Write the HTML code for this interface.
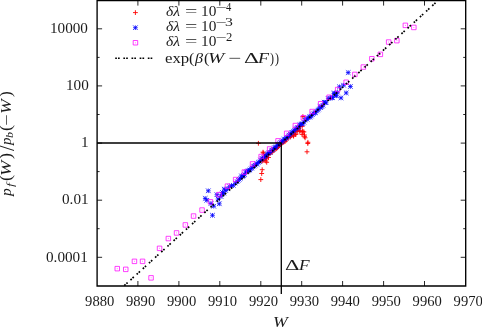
<!DOCTYPE html>
<html><head><meta charset="utf-8"><title>plot</title>
<style>
html,body{margin:0;padding:0;background:#fff;overflow:hidden;}
body{width:482px;height:327px;position:relative;overflow:hidden;font-family:"Liberation Serif",serif;color:#1a1a1a;}
.k{position:absolute;line-height:20px;white-space:nowrap;transform-origin:0 50%;display:block;}
.g{position:absolute;left:0;top:0;width:482px;height:327px;filter:grayscale(1);}
.yl{position:absolute;left:-4.3px;top:195.6px;width:0;height:0;transform:rotate(-90deg);transform-origin:0 0;}
</style></head><body>
<svg width="482" height="327" viewBox="0 0 482 327" style="position:absolute;left:0;top:0">
<path d="M300.5 116.6h4.8M302.9 114.2v4.8M300.5 131.8h4.8M302.9 129.4v4.8M297.3 131.3h4.8M299.7 128.9v4.8M293.6 134.2h4.8M296.0 131.8v4.8M291.2 136.2h4.8M293.6 133.8v4.8M302.2 136.7h4.8M304.6 134.3v4.8M305.4 143.5h4.8M307.8 141.1v4.8M304.6 151.8h4.8M307.0 149.4v4.8M256.0 143.3h4.8M258.4 140.9v4.8M260.6 152.2h4.8M263.0 149.8v4.8M264.3 162.3h4.8M266.7 159.9v4.8M263.8 158.9h4.8M266.2 156.5v4.8M259.8 169.7h4.8M262.2 167.3v4.8M259.3 173.5h4.8M261.7 171.1v4.8M258.4 179.6h4.8M260.8 177.2v4.8M260.9 153.0h4.8M263.3 150.6v4.8M263.4 161.0h4.8M265.8 158.6v4.8M295.3 131.3h4.8M297.7 128.9v4.8M297.8 130.7h4.8M300.2 128.3v4.8M300.2 131.3h4.8M302.6 128.9v4.8M301.5 131.9h4.8M303.9 129.5v4.8M299.6 134.4h4.8M302.0 132.0v4.8M302.1 135.0h4.8M304.5 132.6v4.8M292.9 134.4h4.8M295.3 132.0v4.8M291.1 135.6h4.8M293.5 133.2v4.8M302.7 137.8h4.8M305.1 135.4v4.8M305.5 142.3h4.8M307.9 139.9v4.8M266.1 157.5h4.8M268.5 155.1v4.8M262.1 156.0h4.8M264.5 153.6v4.8M267.6 153.0h4.8M270.0 150.6v4.8M259.6 161.2h4.8M262.0 158.8v4.8M260.5 160.6h4.8M262.9 158.2v4.8M261.7 160.0h4.8M264.1 157.6v4.8M262.9 158.4h4.8M265.3 156.0v4.8M264.0 157.4h4.8M266.4 155.0v4.8M265.0 154.6h4.8M267.4 152.2v4.8M266.3 154.4h4.8M268.7 152.0v4.8M267.5 153.3h4.8M269.9 150.9v4.8M268.3 152.6h4.8M270.7 150.2v4.8M269.7 152.4h4.8M272.1 150.0v4.8M271.1 149.3h4.8M273.5 146.9v4.8M272.2 149.6h4.8M274.6 147.2v4.8M273.4 149.0h4.8M275.8 146.6v4.8M274.3 148.5h4.8M276.7 146.1v4.8M275.2 147.4h4.8M277.6 145.0v4.8M276.2 146.3h4.8M278.6 143.9v4.8M277.1 145.4h4.8M279.5 143.0v4.8M278.0 144.5h4.8M280.4 142.1v4.8M279.4 143.5h4.8M281.8 141.1v4.8M280.6 142.6h4.8M283.0 140.2v4.8M281.7 141.8h4.8M284.1 139.4v4.8M282.7 141.4h4.8M285.1 139.0v4.8M284.2 140.0h4.8M286.6 137.6v4.8M285.3 137.6h4.8M287.7 135.2v4.8M286.2 137.2h4.8M288.6 134.8v4.8M287.3 136.1h4.8M289.7 133.7v4.8M288.2 136.9h4.8M290.6 134.5v4.8M289.0 135.6h4.8M291.4 133.2v4.8M289.9 133.5h4.8M292.3 131.1v4.8M291.1 133.7h4.8M293.5 131.3v4.8M292.6 131.6h4.8M295.0 129.2v4.8M294.0 129.9h4.8M296.4 127.5v4.8M295.0 128.6h4.8M297.4 126.2v4.8M295.9 128.5h4.8M298.3 126.1v4.8M297.3 126.1h4.8M299.7 123.7v4.8M298.3 126.4h4.8M300.7 124.0v4.8M299.8 126.3h4.8M302.2 123.9v4.8M133.0 12.6h4.8M135.4 10.2v4.8" stroke="#ff0000" stroke-width="0.9" fill="none"/>
<path d="M219.8 194.0h4.4M222.0 191.8v4.4M219.8 191.8l4.4 4.4M219.8 196.2l4.4 -4.4M221.7 193.3h4.4M223.9 191.1v4.4M221.7 191.1l4.4 4.4M221.7 195.5l4.4 -4.4M223.6 190.6h4.4M225.8 188.4v4.4M223.6 188.4l4.4 4.4M223.6 192.8l4.4 -4.4M225.5 188.9h4.4M227.7 186.7v4.4M225.5 186.7l4.4 4.4M225.5 191.1l4.4 -4.4M227.4 186.5h4.4M229.6 184.3v4.4M227.4 184.3l4.4 4.4M227.4 188.7l4.4 -4.4M229.3 185.7h4.4M231.5 183.5v4.4M229.3 183.5l4.4 4.4M229.3 187.9l4.4 -4.4M231.2 185.4h4.4M233.4 183.2v4.4M231.2 183.2l4.4 4.4M231.2 187.6l4.4 -4.4M233.1 183.0h4.4M235.3 180.8v4.4M233.1 180.8l4.4 4.4M233.1 185.2l4.4 -4.4M235.0 181.8h4.4M237.2 179.6v4.4M235.0 179.6l4.4 4.4M235.0 184.0l4.4 -4.4M236.1 180.2h4.4M238.3 178.0v4.4M236.1 178.0l4.4 4.4M236.1 182.4l4.4 -4.4M237.1 179.3h4.4M239.3 177.1v4.4M237.1 177.1l4.4 4.4M237.1 181.5l4.4 -4.4M238.2 178.2h4.4M240.4 176.0v4.4M238.2 176.0l4.4 4.4M238.2 180.4l4.4 -4.4M239.2 175.8h4.4M241.4 173.6v4.4M239.2 173.6l4.4 4.4M239.2 178.0l4.4 -4.4M240.3 176.9h4.4M242.5 174.7v4.4M240.3 174.7l4.4 4.4M240.3 179.1l4.4 -4.4M241.4 175.7h4.4M243.6 173.5v4.4M241.4 173.5l4.4 4.4M241.4 177.9l4.4 -4.4M242.4 174.7h4.4M244.6 172.5v4.4M242.4 172.5l4.4 4.4M242.4 176.9l4.4 -4.4M243.5 172.2h4.4M245.7 170.0v4.4M243.5 170.0l4.4 4.4M243.5 174.4l4.4 -4.4M244.5 171.2h4.4M246.7 169.0v4.4M244.5 169.0l4.4 4.4M244.5 173.4l4.4 -4.4M245.6 170.9h4.4M247.8 168.7v4.4M245.6 168.7l4.4 4.4M245.6 173.1l4.4 -4.4M246.7 170.3h4.4M248.9 168.1v4.4M246.7 168.1l4.4 4.4M246.7 172.5l4.4 -4.4M247.7 169.9h4.4M249.9 167.7v4.4M247.7 167.7l4.4 4.4M247.7 172.1l4.4 -4.4M248.8 168.7h4.4M251.0 166.5v4.4M248.8 166.5l4.4 4.4M248.8 170.9l4.4 -4.4M249.8 168.1h4.4M252.0 165.9v4.4M249.8 165.9l4.4 4.4M249.8 170.3l4.4 -4.4M250.9 166.5h4.4M253.1 164.3v4.4M250.9 164.3l4.4 4.4M250.9 168.7l4.4 -4.4M252.0 166.1h4.4M254.2 163.9v4.4M252.0 163.9l4.4 4.4M252.0 168.3l4.4 -4.4M253.0 165.2h4.4M255.2 163.0v4.4M253.0 163.0l4.4 4.4M253.0 167.4l4.4 -4.4M254.1 163.7h4.4M256.3 161.5v4.4M254.1 161.5l4.4 4.4M254.1 165.9l4.4 -4.4M255.1 164.0h4.4M257.3 161.8v4.4M255.1 161.8l4.4 4.4M255.1 166.2l4.4 -4.4M256.2 162.5h4.4M258.4 160.3v4.4M256.2 160.3l4.4 4.4M256.2 164.7l4.4 -4.4M257.3 161.8h4.4M259.5 159.6v4.4M257.3 159.6l4.4 4.4M257.3 164.0l4.4 -4.4M258.3 160.0h4.4M260.5 157.8v4.4M258.3 157.8l4.4 4.4M258.3 162.2l4.4 -4.4M259.4 159.0h4.4M261.6 156.8v4.4M259.4 156.8l4.4 4.4M259.4 161.2l4.4 -4.4M260.4 158.3h4.4M262.6 156.1v4.4M260.4 156.1l4.4 4.4M260.4 160.5l4.4 -4.4M261.5 157.5h4.4M263.7 155.3v4.4M261.5 155.3l4.4 4.4M261.5 159.7l4.4 -4.4M262.6 156.8h4.4M264.8 154.6v4.4M262.6 154.6l4.4 4.4M262.6 159.0l4.4 -4.4M263.6 155.7h4.4M265.8 153.5v4.4M263.6 153.5l4.4 4.4M263.6 157.9l4.4 -4.4M264.7 154.5h4.4M266.9 152.3v4.4M264.7 152.3l4.4 4.4M264.7 156.7l4.4 -4.4M265.7 153.4h4.4M267.9 151.2v4.4M265.7 151.2l4.4 4.4M265.7 155.6l4.4 -4.4M266.8 152.6h4.4M269.0 150.4v4.4M266.8 150.4l4.4 4.4M266.8 154.8l4.4 -4.4M267.9 152.4h4.4M270.1 150.2v4.4M267.9 150.2l4.4 4.4M267.9 154.6l4.4 -4.4M268.9 150.7h4.4M271.1 148.5v4.4M268.9 148.5l4.4 4.4M268.9 152.9l4.4 -4.4M270.0 150.1h4.4M272.2 147.9v4.4M270.0 147.9l4.4 4.4M270.0 152.3l4.4 -4.4M271.0 149.3h4.4M273.2 147.1v4.4M271.0 147.1l4.4 4.4M271.0 151.5l4.4 -4.4M272.1 147.6h4.4M274.3 145.4v4.4M272.1 145.4l4.4 4.4M272.1 149.8l4.4 -4.4M273.2 147.2h4.4M275.4 145.0v4.4M273.2 145.0l4.4 4.4M273.2 149.4l4.4 -4.4M274.2 146.8h4.4M276.4 144.6v4.4M274.2 144.6l4.4 4.4M274.2 149.0l4.4 -4.4M275.3 144.6h4.4M277.5 142.4v4.4M275.3 142.4l4.4 4.4M275.3 146.8l4.4 -4.4M276.3 144.3h4.4M278.5 142.1v4.4M276.3 142.1l4.4 4.4M276.3 146.5l4.4 -4.4M277.4 143.5h4.4M279.6 141.3v4.4M277.4 141.3l4.4 4.4M277.4 145.7l4.4 -4.4M278.5 142.3h4.4M280.7 140.1v4.4M278.5 140.1l4.4 4.4M278.5 144.5l4.4 -4.4M279.5 141.8h4.4M281.7 139.6v4.4M279.5 139.6l4.4 4.4M279.5 144.0l4.4 -4.4M280.6 140.7h4.4M282.8 138.5v4.4M280.6 138.5l4.4 4.4M280.6 142.9l4.4 -4.4M281.6 139.2h4.4M283.8 137.0v4.4M281.6 137.0l4.4 4.4M281.6 141.4l4.4 -4.4M282.7 139.1h4.4M284.9 136.9v4.4M282.7 136.9l4.4 4.4M282.7 141.3l4.4 -4.4M283.8 138.1h4.4M286.0 135.9v4.4M283.8 135.9l4.4 4.4M283.8 140.3l4.4 -4.4M284.8 137.3h4.4M287.0 135.1v4.4M284.8 135.1l4.4 4.4M284.8 139.5l4.4 -4.4M285.9 136.5h4.4M288.1 134.3v4.4M285.9 134.3l4.4 4.4M285.9 138.7l4.4 -4.4M286.9 135.2h4.4M289.1 133.0v4.4M286.9 133.0l4.4 4.4M286.9 137.4l4.4 -4.4M288.0 134.2h4.4M290.2 132.0v4.4M288.0 132.0l4.4 4.4M288.0 136.4l4.4 -4.4M289.1 132.7h4.4M291.3 130.5v4.4M289.1 130.5l4.4 4.4M289.1 134.9l4.4 -4.4M290.1 132.5h4.4M292.3 130.3v4.4M290.1 130.3l4.4 4.4M290.1 134.7l4.4 -4.4M291.2 131.1h4.4M293.4 128.9v4.4M291.2 128.9l4.4 4.4M291.2 133.3l4.4 -4.4M292.2 130.2h4.4M294.4 128.0v4.4M292.2 128.0l4.4 4.4M292.2 132.4l4.4 -4.4M293.3 129.0h4.4M295.5 126.8v4.4M293.3 126.8l4.4 4.4M293.3 131.2l4.4 -4.4M294.4 128.1h4.4M296.6 125.9v4.4M294.4 125.9l4.4 4.4M294.4 130.3l4.4 -4.4M295.4 127.4h4.4M297.6 125.2v4.4M295.4 125.2l4.4 4.4M295.4 129.6l4.4 -4.4M296.5 127.2h4.4M298.7 125.0v4.4M296.5 125.0l4.4 4.4M296.5 129.4l4.4 -4.4M297.5 124.8h4.4M299.7 122.6v4.4M297.5 122.6l4.4 4.4M297.5 127.0l4.4 -4.4M298.6 124.1h4.4M300.8 121.9v4.4M298.6 121.9l4.4 4.4M298.6 126.3l4.4 -4.4M299.7 124.0h4.4M301.9 121.8v4.4M299.7 121.8l4.4 4.4M299.7 126.2l4.4 -4.4M300.7 123.6h4.4M302.9 121.4v4.4M300.7 121.4l4.4 4.4M300.7 125.8l4.4 -4.4M301.8 122.3h4.4M304.0 120.1v4.4M301.8 120.1l4.4 4.4M301.8 124.5l4.4 -4.4M302.8 120.1h4.4M305.0 117.9v4.4M302.8 117.9l4.4 4.4M302.8 122.3l4.4 -4.4M303.9 118.8h4.4M306.1 116.6v4.4M303.9 116.6l4.4 4.4M303.9 121.0l4.4 -4.4M305.0 119.4h4.4M307.2 117.2v4.4M305.0 117.2l4.4 4.4M305.0 121.6l4.4 -4.4M306.0 117.8h4.4M308.2 115.6v4.4M306.0 115.6l4.4 4.4M306.0 120.0l4.4 -4.4M307.1 116.7h4.4M309.3 114.5v4.4M307.1 114.5l4.4 4.4M307.1 118.9l4.4 -4.4M308.1 117.0h4.4M310.3 114.8v4.4M308.1 114.8l4.4 4.4M308.1 119.2l4.4 -4.4M309.2 116.1h4.4M311.4 113.9v4.4M309.2 113.9l4.4 4.4M309.2 118.3l4.4 -4.4M310.3 114.6h4.4M312.5 112.4v4.4M310.3 112.4l4.4 4.4M310.3 116.8l4.4 -4.4M311.3 113.7h4.4M313.5 111.5v4.4M311.3 111.5l4.4 4.4M311.3 115.9l4.4 -4.4M312.4 112.9h4.4M314.6 110.7v4.4M312.4 110.7l4.4 4.4M312.4 115.1l4.4 -4.4M313.4 112.7h4.4M315.6 110.5v4.4M313.4 110.5l4.4 4.4M313.4 114.9l4.4 -4.4M314.5 111.1h4.4M316.7 108.9v4.4M314.5 108.9l4.4 4.4M314.5 113.3l4.4 -4.4M315.6 110.1h4.4M317.8 107.9v4.4M315.6 107.9l4.4 4.4M315.6 112.3l4.4 -4.4M316.6 109.1h4.4M318.8 106.9v4.4M316.6 106.9l4.4 4.4M316.6 111.3l4.4 -4.4M317.7 106.5h4.4M319.9 104.3v4.4M317.7 104.3l4.4 4.4M317.7 108.7l4.4 -4.4M318.7 107.8h4.4M320.9 105.6v4.4M318.7 105.6l4.4 4.4M318.7 110.0l4.4 -4.4M319.8 106.6h4.4M322.0 104.4v4.4M319.8 104.4l4.4 4.4M319.8 108.8l4.4 -4.4M320.9 105.3h4.4M323.1 103.1v4.4M320.9 103.1l4.4 4.4M320.9 107.5l4.4 -4.4M321.9 102.1h4.4M324.1 99.9v4.4M321.9 99.9l4.4 4.4M321.9 104.3l4.4 -4.4M323.0 102.3h4.4M325.2 100.1v4.4M323.0 100.1l4.4 4.4M323.0 104.5l4.4 -4.4M324.0 102.8h4.4M326.2 100.6v4.4M324.0 100.6l4.4 4.4M324.0 105.0l4.4 -4.4M325.9 98.4h4.4M328.1 96.2v4.4M325.9 96.2l4.4 4.4M325.9 100.6l4.4 -4.4M327.8 98.3h4.4M330.0 96.1v4.4M327.8 96.1l4.4 4.4M327.8 100.5l4.4 -4.4M329.7 97.9h4.4M331.9 95.7v4.4M329.7 95.7l4.4 4.4M329.7 100.1l4.4 -4.4M331.6 93.5h4.4M333.8 91.3v4.4M331.6 91.3l4.4 4.4M331.6 95.7l4.4 -4.4M333.5 95.3h4.4M335.7 93.1v4.4M333.5 93.1l4.4 4.4M333.5 97.5l4.4 -4.4M335.4 92.3h4.4M337.6 90.1v4.4M335.4 90.1l4.4 4.4M335.4 94.5l4.4 -4.4" stroke="#0000ff" stroke-width="0.75" fill="none"/>
<path d="M206.0 190.8h4.6M208.3 188.5v4.6M206.0 188.5l4.6 4.6M206.0 193.1l4.6 -4.6M202.9 198.4h4.6M205.2 196.1v4.6M202.9 196.1l4.6 4.6M202.9 200.7l4.6 -4.6M204.5 200.3h4.6M206.8 198.0v4.6M204.5 198.0l4.6 4.6M204.5 202.6l4.6 -4.6M210.2 215.3h4.6M212.5 213.0v4.6M210.2 213.0l4.6 4.6M210.2 217.6l4.6 -4.6M211.4 206.2h4.6M213.7 203.9v4.6M211.4 203.9l4.6 4.6M211.4 208.5l4.6 -4.6M217.0 203.8h4.6M219.3 201.5v4.6M217.0 201.5l4.6 4.6M217.0 206.1l4.6 -4.6M214.6 194.7h4.6M216.9 192.4v4.6M214.6 192.4l4.6 4.6M214.6 197.0l4.6 -4.6M218.7 196.5h4.6M221.0 194.2v4.6M218.7 194.2l4.6 4.6M218.7 198.8l4.6 -4.6M221.9 189.1h4.6M224.2 186.8v4.6M221.9 186.8l4.6 4.6M221.9 191.4l4.6 -4.6M345.9 72.6h4.6M348.2 70.3v4.6M345.9 70.3l4.6 4.6M345.9 74.9l4.6 -4.6M348.1 86.5h4.6M350.4 84.2v4.6M348.1 84.2l4.6 4.6M348.1 88.8l4.6 -4.6M343.9 92.9h4.6M346.2 90.6v4.6M343.9 90.6l4.6 4.6M343.9 95.2l4.6 -4.6M341.3 85.2h4.6M343.6 82.9v4.6M341.3 82.9l4.6 4.6M341.3 87.5l4.6 -4.6M337.2 86.8h4.6M339.5 84.5v4.6M337.2 84.5l4.6 4.6M337.2 89.1l4.6 -4.6M338.7 97.9h4.6M341.0 95.6v4.6M338.7 95.6l4.6 4.6M338.7 100.2l4.6 -4.6M334.1 95.8h4.6M336.4 93.5v4.6M334.1 93.5l4.6 4.6M334.1 98.1l4.6 -4.6M208.7 203.5h4.6M211.0 201.2v4.6M208.7 201.2l4.6 4.6M208.7 205.8l4.6 -4.6M215.7 199.0h4.6M218.0 196.7v4.6M215.7 196.7l4.6 4.6M215.7 201.3l4.6 -4.6M220.2 192.5h4.6M222.5 190.2v4.6M220.2 190.2l4.6 4.6M220.2 194.8l4.6 -4.6M332.2 93.0h4.6M334.5 90.7v4.6M332.2 90.7l4.6 4.6M332.2 95.3l4.6 -4.6M330.2 97.5h4.6M332.5 95.2v4.6M330.2 95.2l4.6 4.6M330.2 99.8l4.6 -4.6M133.1 27.7h4.6M135.4 25.4v4.6M133.1 25.4l4.6 4.6M133.1 30.0l4.6 -4.6" stroke="#0000ff" stroke-width="0.8" fill="none"/>
<path d="M115.0 266.4h4.5v4.5h-4.5zM123.5 267.1h4.5v4.5h-4.5zM132.2 259.1h4.5v4.5h-4.5zM140.3 259.1h4.5v4.5h-4.5zM148.8 275.6h4.5v4.5h-4.5zM157.3 246.1h4.5v4.5h-4.5zM166.1 236.3h4.5v4.5h-4.5zM174.3 230.7h4.5v4.5h-4.5zM183.1 222.7h4.5v4.5h-4.5zM191.3 213.8h4.5v4.5h-4.5zM199.8 207.8h4.5v4.5h-4.5zM208.2 199.6h4.5v4.5h-4.5zM216.8 192.4h4.5v4.5h-4.5zM225.2 183.9h4.5v4.5h-4.5zM233.4 177.3h4.5v4.5h-4.5zM242.1 169.8h4.5v4.5h-4.5zM250.3 161.7h4.5v4.5h-4.5zM258.9 154.3h4.5v4.5h-4.5zM267.4 146.7h4.5v4.5h-4.5zM275.8 138.6h4.5v4.5h-4.5zM284.4 131.1h4.5v4.5h-4.5zM293.1 123.3h4.5v4.5h-4.5zM301.1 115.5h4.5v4.5h-4.5zM309.9 109.3h4.5v4.5h-4.5zM318.4 101.5h4.5v4.5h-4.5zM326.9 95.0h4.5v4.5h-4.5zM335.4 87.3h4.5v4.5h-4.5zM343.9 80.0h4.5v4.5h-4.5zM352.6 72.2h4.5v4.5h-4.5zM361.1 64.8h4.5v4.5h-4.5zM369.6 56.5h4.5v4.5h-4.5zM378.1 52.1h4.5v4.5h-4.5zM386.4 39.8h4.5v4.5h-4.5zM394.6 38.4h4.5v4.5h-4.5zM403.1 23.1h4.5v4.5h-4.5zM411.6 25.2h4.5v4.5h-4.5zM133.2 40.5h4.5v4.5h-4.5z" stroke="#ff00ff" stroke-width="0.75" fill="none"/>
<path d="M116.85 268.7h0.7M125.35 269.4h0.7M134.05 261.3h0.7M142.25 261.3h0.7M150.75 277.8h0.7M159.25 248.3h0.7M167.95 238.6h0.7M176.25 232.9h0.7M184.95 224.9h0.7M193.25 216.0h0.7M201.65 210.1h0.7M210.15 201.8h0.7M218.75 194.7h0.7M227.05 186.2h0.7M235.35 179.6h0.7M243.95 172.0h0.7M252.25 163.9h0.7M260.75 156.6h0.7M269.35 148.9h0.7M277.65 140.8h0.7M286.35 133.3h0.7M294.95 125.6h0.7M303.05 117.7h0.7M311.75 111.6h0.7M320.25 103.7h0.7M328.85 97.3h0.7M337.35 89.6h0.7M345.85 82.3h0.7M354.45 74.4h0.7M363.05 67.0h0.7M371.55 58.7h0.7M380.05 54.4h0.7M388.25 42.0h0.7M396.55 40.6h0.7M405.05 25.4h0.7M413.55 27.5h0.7M135.05 42.8h0.7" stroke="#ff00ff" stroke-width="0.7" fill="none"/>
<path d="M124.3 285.6L435.6 2.8" stroke="#000" stroke-width="1.7" stroke-dasharray="1.7 1.1 1.7 3.82" fill="none"/>
<path d="M115.2 58.2H153" stroke="#000" stroke-width="1.6" stroke-dasharray="1.7 1.1 1.7 3.65" fill="none"/>
<path d="M97.1 143.0H281.3M281.3 143.0V294" stroke="#000" stroke-width="1.3" fill="none"/>
<path d="M97.1 0.6H465.7V286.0H97.1Z" stroke="#000" stroke-width="1.35" fill="none"/>
<path d="M137.9 286.0v-5M137.9 0.6v5M178.9 286.0v-5M178.9 0.6v5M219.8 286.0v-5M219.8 0.6v5M260.8 286.0v-5M260.8 0.6v5M301.7 286.0v-5M301.7 0.6v5M342.6 286.0v-5M342.6 0.6v5M383.6 286.0v-5M383.6 0.6v5M424.5 286.0v-5M424.5 0.6v5M97.1 257.3h5M465.7 257.3h-5M97.1 228.7h2.5M465.7 228.7h-2.5M97.1 200.2h5M465.7 200.2h-5M97.1 171.6h2.5M465.7 171.6h-2.5M97.1 143.1h5M465.7 143.1h-5M97.1 114.5h2.5M465.7 114.5h-2.5M97.1 85.9h5M465.7 85.9h-5M97.1 57.4h2.5M465.7 57.4h-2.5M97.1 28.8h5M465.7 28.8h-5" stroke="#000" stroke-width="0.85" fill="none"/>
</svg>
<div class="g">
<span class="k" style="left:49.9px;top:18.1px;font-size:14.6px;transform:scale(1.040,1.000);">10000</span>
<span class="k" style="left:65.5px;top:75.2px;font-size:14.6px;transform:scale(1.040,1.000);">100</span>
<span class="k" style="left:80.6px;top:132.3px;font-size:14.6px;transform:scale(1.040,1.000);">1</span>
<span class="k" style="left:61.8px;top:189.4px;font-size:14.6px;transform:scale(1.040,1.000);">0.01</span>
<span class="k" style="left:46.2px;top:246.6px;font-size:14.6px;transform:scale(1.040,1.000);">0.0001</span>
<span class="k" style="left:85.1px;top:290.6px;font-size:14.6px;">9880</span>
<span class="k" style="left:126.0px;top:290.6px;font-size:14.6px;">9890</span>
<span class="k" style="left:167.0px;top:290.6px;font-size:14.6px;">9900</span>
<span class="k" style="left:207.9px;top:290.6px;font-size:14.6px;">9910</span>
<span class="k" style="left:248.9px;top:290.6px;font-size:14.6px;">9920</span>
<span class="k" style="left:289.8px;top:290.6px;font-size:14.6px;">9930</span>
<span class="k" style="left:330.7px;top:290.6px;font-size:14.6px;">9940</span>
<span class="k" style="left:371.7px;top:290.6px;font-size:14.6px;">9950</span>
<span class="k" style="left:412.6px;top:290.6px;font-size:14.6px;">9960</span>
<span class="k" style="left:453.6px;top:290.6px;font-size:14.6px;">9970</span>
<span class="k" style="left:165.9px;top:1.2px;font-size:15px;transform:scale(1.038,1.000);"><i>δλ</i></span>
<span class="k" style="left:184.7px;top:1.2px;font-size:15px;transform:scale(1.457,1.000);">=</span>
<span class="k" style="left:201.0px;top:1.2px;font-size:15px;transform:scale(1.023,1.000);">10</span>
<span class="k" style="left:215.8px;top:-2.1px;font-size:10.5px;transform:scale(1.875,1.000);transform-origin:0 9.5px;">−</span>
<span class="k" style="left:226.3px;top:-2.9px;font-size:11.5px;transform:scale(0.917,1.000);">4</span>
<span class="k" style="left:165.9px;top:16.1px;font-size:15px;transform:scale(1.038,1.000);"><i>δλ</i></span>
<span class="k" style="left:184.7px;top:16.1px;font-size:15px;transform:scale(1.457,1.000);">=</span>
<span class="k" style="left:201.0px;top:16.1px;font-size:15px;transform:scale(1.023,1.000);">10</span>
<span class="k" style="left:215.8px;top:12.8px;font-size:10.5px;transform:scale(1.875,1.000);transform-origin:0 9.5px;">−</span>
<span class="k" style="left:224.9px;top:12.0px;font-size:11.5px;transform:scale(1.375,1.000);">3</span>
<span class="k" style="left:165.9px;top:31.1px;font-size:15px;transform:scale(1.038,1.000);"><i>δλ</i></span>
<span class="k" style="left:184.7px;top:31.1px;font-size:15px;transform:scale(1.457,1.000);">=</span>
<span class="k" style="left:201.0px;top:31.1px;font-size:15px;transform:scale(1.023,1.000);">10</span>
<span class="k" style="left:215.8px;top:27.8px;font-size:10.5px;transform:scale(1.875,1.000);transform-origin:0 9.5px;">−</span>
<span class="k" style="left:226.3px;top:27.0px;font-size:11.5px;transform:scale(1.100,1.000);">2</span>
<span class="k" style="left:164.8px;top:47.5px;font-size:15px;transform:scale(1.120,1.000);">exp</span>
<span class="k" style="left:188.6px;top:47.5px;font-size:15px;transform:scale(1.067,1.000);">(</span>
<span class="k" style="left:194.5px;top:47.5px;font-size:15px;transform:scale(1.075,1.000);"><i>β</i></span>
<span class="k" style="left:203.7px;top:47.5px;font-size:15px;transform:scale(1.067,1.000);">(</span>
<span class="k" style="left:207.8px;top:47.5px;font-size:15px;transform:scale(1.300,1.000);"><i>W</i></span>
<span class="k" style="left:228.1px;top:47.5px;font-size:15px;transform:scale(1.543,1.000);">−</span>
<span class="k" style="left:243.6px;top:47.5px;font-size:15px;transform:scale(1.550,1.000);">Δ</span>
<span class="k" style="left:258.4px;top:47.5px;font-size:15px;transform:scale(1.200,1.000);"><i>F</i></span>
<span class="k" style="left:269.8px;top:47.5px;font-size:15px;transform:scale(0.800,1.000);">)</span>
<span class="k" style="left:275.2px;top:47.5px;font-size:15px;transform:scale(0.800,1.000);">)</span>
<span class="k" style="left:284.5px;top:254.9px;font-size:15px;transform:scale(1.500,1.000);">Δ</span>
<span class="k" style="left:298.8px;top:254.9px;font-size:15px;transform:scale(1.156,1.000);"><i>F</i></span>
<span class="k" style="left:273.1px;top:311.5px;font-size:15px;transform:scale(1.183,1.000);"><i>W</i></span>

<div class="yl">
<span class="k" style="left:0.0px;top:0.1px;font-size:14.6px;transform:scale(1.057,1.000);"><i>p</i></span>
<span class="k" style="left:9.2px;top:4.6px;font-size:10.5px;transform:scale(1.350,0.980);transform-origin:0 10.0px;"><i>f</i></span>
<span class="k" style="left:14.5px;top:-0.1px;font-size:14.6px;transform:scale(1.267,1.138);transform-origin:0 11.5px;">(</span>
<span class="k" style="left:20.1px;top:-0.3px;font-size:14.6px;transform:scale(1.267,1.060);transform-origin:0 10.0px;"><i>W</i></span>
<span class="k" style="left:36.9px;top:-0.1px;font-size:14.6px;transform:scale(1.267,1.138);transform-origin:0 11.5px;">)</span>
<span class="k" style="left:45.0px;top:1.4px;font-size:14.6px;transform:scale(1.350,1.480);transform-origin:0 10.0px;">/</span>
<span class="k" style="left:50.9px;top:0.1px;font-size:14.6px;transform:scale(1.029,1.000);"><i>p</i></span>
<span class="k" style="left:57.8px;top:4.1px;font-size:10.5px;transform:scale(1.150,1.000);"><i>b</i></span>
<span class="k" style="left:65.0px;top:-0.1px;font-size:14.6px;transform:scale(1.267,1.138);transform-origin:0 11.5px;">(</span>
<span class="k" style="left:70.2px;top:0.1px;font-size:14.6px;transform:scale(1.386,1.000);">−</span>
<span class="k" style="left:81.9px;top:-0.3px;font-size:14.6px;transform:scale(1.208,1.060);transform-origin:0 10.0px;"><i>W</i></span>
<span class="k" style="left:98.6px;top:-0.1px;font-size:14.6px;transform:scale(1.200,1.138);transform-origin:0 11.5px;">)</span>
</div>
</div>
</body></html>
